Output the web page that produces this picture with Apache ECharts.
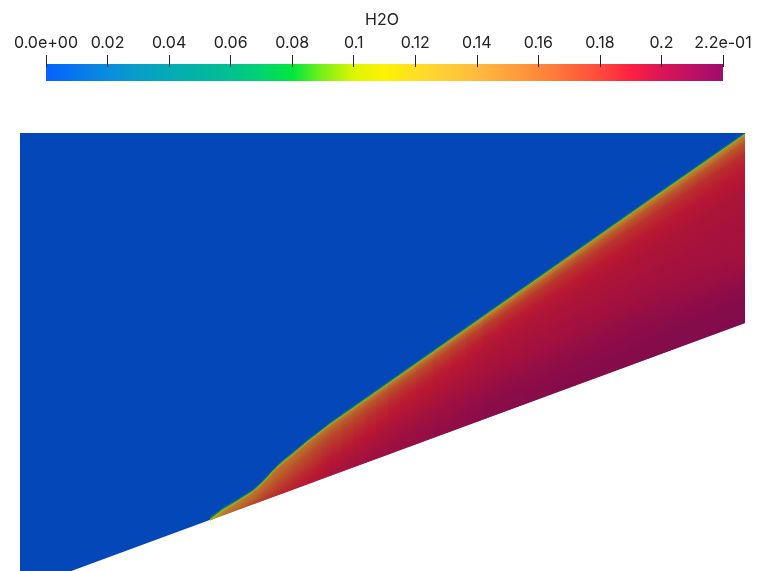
<!DOCTYPE html>
<html><head><meta charset="utf-8">
<script src="https://cdn.jsdelivr.net/npm/echarts@6/dist/echarts.min.js"></script>
<style>html,body{margin:0;padding:0;background:#fff}#c{width:757px;height:571px}</style>
</head><body><div id="c"></div>
<script>
// ---- colour bar ----
const TICK_VALUES = [0, 0.02, 0.04, 0.06, 0.08, 0.1, 0.12, 0.14, 0.16, 0.18, 0.2, 0.22];
const TICK_LABELS = ['0.0e+00', '0.02', '0.04', '0.06', '0.08', '0.1', '0.12', '0.14', '0.16', '0.18', '0.2', '2.2e-01'];
const CMAP_VALUES = [0, 0.01, 0.02, 0.03, 0.04, 0.05, 0.06, 0.07, 0.08, 0.09, 0.10, 0.11, 0.12, 0.13, 0.14, 0.15, 0.16, 0.17, 0.18, 0.19, 0.20, 0.21, 0.22];
const CMAP_COLORS = ['#0561fe', '#0878ee', '#0a8ddc', '#089ec8', '#04abb6', '#02b5a4', '#00c190', '#00d470', '#00e63c', '#7af018', '#dcf600', '#fff200', '#ffde24', '#ffcd36', '#ffbb3c', '#ffa23c', '#ff8a3a', '#ff6a3a', '#ff4a3c', '#ff2043', '#da1558', '#be1064', '#a00c70'];

// ---- field geometry (domain units) ----
const DOMAIN_X = [0, 7.25];
const DOMAIN_Y = [0, 4.38];
const WALL_X = [0, 7.25];
const WALL_Y = [-0.189, 2.483];
const SHOCK_X = [1.90, 2.03, 2.17, 2.33, 2.40, 2.47, 2.53, 2.58, 2.64, 2.70, 2.79, 2.88, 3.10, 3.80, 4.80, 6.30, 7.25];
const SHOCK_Y = [0.512, 0.61, 0.69, 0.79, 0.852, 0.925, 0.99, 1.04, 1.093, 1.14, 1.215, 1.29, 1.46, 1.95, 2.65, 3.70, 4.36];
// fraction of the distance wall -> shock
const LEVELS_T = [0, 0.1, 0.2, 0.3, 0.4, 0.55, 0.7, 0.8, 0.9, 0.96, 1];
// H2O mass fraction at each station (rows follow SHOCK_X), from wall to shock
const PROFILES = [
  [0.11, 0.11, 0.11, 0.11, 0.11, 0.11, 0.11, 0.11, 0.11, 0.11, 0.11],
  [0.15, 0.15, 0.15, 0.148, 0.146, 0.144, 0.142, 0.14, 0.135, 0.13, 0.12],
  [0.16, 0.16, 0.158, 0.156, 0.154, 0.152, 0.15, 0.148, 0.145, 0.14, 0.13],
  [0.172, 0.17, 0.168, 0.165, 0.162, 0.158, 0.155, 0.152, 0.15, 0.146, 0.14],
  [0.176, 0.174, 0.171, 0.168, 0.165, 0.161, 0.157, 0.154, 0.151, 0.147, 0.14],
  [0.18, 0.178, 0.175, 0.172, 0.168, 0.164, 0.159, 0.156, 0.152, 0.148, 0.14],
  [0.182, 0.18, 0.177, 0.174, 0.17, 0.165, 0.16, 0.157, 0.153, 0.149, 0.14],
  [0.184, 0.182, 0.179, 0.176, 0.172, 0.167, 0.162, 0.158, 0.154, 0.15, 0.14],
  [0.186, 0.184, 0.181, 0.178, 0.174, 0.169, 0.164, 0.159, 0.155, 0.15, 0.14],
  [0.187, 0.185, 0.183, 0.18, 0.176, 0.17, 0.165, 0.16, 0.155, 0.15, 0.14],
  [0.189, 0.187, 0.185, 0.183, 0.179, 0.173, 0.168, 0.162, 0.157, 0.151, 0.14],
  [0.19, 0.189, 0.187, 0.185, 0.181, 0.176, 0.17, 0.164, 0.158, 0.152, 0.14],
  [0.195, 0.194, 0.192, 0.19, 0.187, 0.182, 0.176, 0.17, 0.162, 0.154, 0.14],
  [0.203, 0.201, 0.199, 0.197, 0.195, 0.191, 0.186, 0.18, 0.17, 0.158, 0.14],
  [0.211, 0.21, 0.207, 0.203, 0.199, 0.196, 0.193, 0.188, 0.179, 0.163, 0.14],
  [0.213, 0.212, 0.209, 0.205, 0.2, 0.197, 0.194, 0.19, 0.181, 0.165, 0.14],
  [0.214, 0.213, 0.209, 0.2, 0.198, 0.197, 0.195, 0.191, 0.183, 0.167, 0.14]
];
const FREESTREAM = 0;
const SHOCK_WIDTH = 0.03;   // thickness of the captured shock front
const SHADE = 0.73;         // lighting of the rendered surface

// ---- helpers ----
const CMAP_RGB = CMAP_COLORS.map(h => [parseInt(h.slice(1, 3), 16), parseInt(h.slice(3, 5), 16), parseInt(h.slice(5, 7), 16)]);
function cmap(v, shade) {
  const n = CMAP_VALUES.length;
  if (v <= CMAP_VALUES[0]) v = CMAP_VALUES[0];
  if (v >= CMAP_VALUES[n - 1]) v = CMAP_VALUES[n - 1];
  let k = 0;
  while (k < n - 2 && v > CMAP_VALUES[k + 1]) k++;
  const f = (v - CMAP_VALUES[k]) / (CMAP_VALUES[k + 1] - CMAP_VALUES[k]);
  const a = CMAP_RGB[k], b = CMAP_RGB[k + 1];
  const c = [0, 1, 2].map(q => Math.round((a[q] + (b[q] - a[q]) * f) * shade));
  return 'rgb(' + c.join(',') + ')';
}
function wallY(x) {
  return WALL_Y[0] + (WALL_Y[1] - WALL_Y[0]) * (x - WALL_X[0]) / (WALL_X[1] - WALL_X[0]);
}
function shockAt(i, u) {
  return [SHOCK_X[i] + (SHOCK_X[i + 1] - SHOCK_X[i]) * u, SHOCK_Y[i] + (SHOCK_Y[i + 1] - SHOCK_Y[i]) * u];
}
function levelPt(i, u, t) {
  const s = shockAt(i, u);
  const yw = wallY(s[0]);
  return [s[0], yw + t * (s[1] - yw)];
}
const NSTOP = 6, NSUB = 6;
function gradFill(a0, a1, b0, b1, va, vb) {
  const bm = [(a0[0] + a1[0]) / 2, (a0[1] + a1[1]) / 2];
  const tm = [(b0[0] + b1[0]) / 2, (b0[1] + b1[1]) / 2];
  let dx = a1[0] - a0[0], dy = a1[1] - a0[1];
  const len = Math.hypot(dx, dy) || 1; dx /= len; dy /= len;
  const nx = -dy, ny = dx;
  const p = (tm[0] - bm[0]) * nx + (tm[1] - bm[1]) * ny;
  if (Math.abs(p) < 0.05) return cmap((va + vb) / 2, SHADE);
  const stops = [];
  for (let s = 0; s <= NSTOP; s++) stops.push({ offset: s / NSTOP, color: cmap(va + (vb - va) * s / NSTOP, SHADE) });
  return { type: 'linear', x: bm[0], y: bm[1], x2: bm[0] + nx * p, y2: bm[1] + ny * p, colorStops: stops, global: true };
}

// ---- data items ----
const cellData = [];
for (let i = 0; i < SHOCK_X.length - 1; i++)
  for (let j = 0; j < LEVELS_T.length - 1; j++) cellData.push([i, j]);
const bandData = [];
for (let i = 0; i < SHOCK_X.length - 1; i++) bandData.push([i]);

const chart = echarts.init(document.getElementById('c'), null, { renderer: 'canvas' });
const FONT = 'Inter';
chart.setOption({
  animation: false,
  backgroundColor: '#ffffff',
  graphic: [{
    type: 'text', left: 365, top: 12,
    style: { text: 'H2O', fontSize: 16, fontFamily: FONT, fill: '#222' }
  }],
  grid: [
    { left: 20, top: 133, width: 725, height: 438 },
    { left: 46, top: 67, width: 677, height: 14 }
  ],
  xAxis: [
    { gridIndex: 0, type: 'value', min: DOMAIN_X[0], max: DOMAIN_X[1], show: false },
    {
      gridIndex: 1, type: 'value', position: 'top', min: TICK_VALUES[0], max: TICK_VALUES[TICK_VALUES.length - 1],
      interval: 0.02, z: 10,
      axisLine: { show: false, onZero: false },
      axisTick: { show: true, inside: false, length: 12, lineStyle: { color: '#222', width: 1 } },
      splitLine: { show: false },
      axisLabel: {
        margin: 16, fontSize: 16, fontFamily: FONT, color: '#222', showMinLabel: true, showMaxLabel: true,
        formatter: function (v) { return TICK_LABELS[Math.round(v / 0.02)]; }
      }
    }
  ],
  yAxis: [
    { gridIndex: 0, type: 'value', min: DOMAIN_Y[0], max: DOMAIN_Y[1], show: false },
    { gridIndex: 1, type: 'value', min: 0, max: 0.82, show: false }
  ],
  series: [
    { // free stream (whole domain)
      type: 'custom', xAxisIndex: 0, yAxisIndex: 0, clip: true, silent: true,
      data: [[FREESTREAM]],
      renderItem: function (params, api) {
        const pts = [[WALL_X[0], WALL_Y[0]], [DOMAIN_X[0], DOMAIN_Y[1]], [DOMAIN_X[1], DOMAIN_Y[1]], [WALL_X[1], WALL_Y[1]]].map(p => api.coord(p));
        return { type: 'polygon', shape: { points: pts }, style: { fill: cmap(api.value(0), SHADE) } };
      }
    },
    { // post-shock layer
      type: 'custom', xAxisIndex: 0, yAxisIndex: 0, clip: true, silent: true,
      data: cellData,
      renderItem: function (params, api) {
        const i = api.value(0), j = api.value(1);
        const children = [];
        for (let k = 0; k < NSUB; k++) {
          const u0 = k / NSUB, u1 = (k + 1) / NSUB, um = (u0 + u1) / 2;
          const p00 = api.coord(levelPt(i, u0, LEVELS_T[j])), p10 = api.coord(levelPt(i, u1, LEVELS_T[j]));
          const p01 = api.coord(levelPt(i, u0, LEVELS_T[j + 1])), p11 = api.coord(levelPt(i, u1, LEVELS_T[j + 1]));
          const va = PROFILES[i][j] + (PROFILES[i + 1][j] - PROFILES[i][j]) * um;
          const vb = PROFILES[i][j + 1] + (PROFILES[i + 1][j + 1] - PROFILES[i][j + 1]) * um;
          const fill = gradFill(p00, p10, p01, p11, va, vb);
          children.push({ type: 'polygon', shape: { points: [p00, p10, p11, p01] }, style: { fill: fill, stroke: fill, lineWidth: 0.8 } });
        }
        return { type: 'group', children: children };
      }
    },
    { // shock front
      type: 'custom', xAxisIndex: 0, yAxisIndex: 0, clip: true, silent: true,
      data: bandData,
      renderItem: function (params, api) {
        const i = api.value(0);
        const last = LEVELS_T.length - 1;
        const children = [];
        for (let k = 0; k < NSUB; k++) {
          const u0 = k / NSUB, u1 = (k + 1) / NSUB, um = (u0 + u1) / 2;
          const s0 = shockAt(i, u0), s1 = shockAt(i, u1);
          const a0 = api.coord(s0), a1 = api.coord(s1);
          const b0 = api.coord([s0[0], s0[1] + SHOCK_WIDTH]), b1 = api.coord([s1[0], s1[1] + SHOCK_WIDTH]);
          const va = PROFILES[i][last] + (PROFILES[i + 1][last] - PROFILES[i][last]) * um;
          const fill = gradFill(a0, a1, b0, b1, va, FREESTREAM);
          children.push({ type: 'polygon', shape: { points: [a0, a1, b1, b0] }, style: { fill: fill, stroke: fill, lineWidth: 0.5 } });
        }
        return { type: 'group', children: children };
      }
    },
    { // colour bar
      type: 'custom', xAxisIndex: 1, yAxisIndex: 1, silent: true, z: 1,
      data: [[TICK_VALUES[0], TICK_VALUES[TICK_VALUES.length - 1]]],
      renderItem: function (params, api) {
        const p0 = api.coord([api.value(0), 0]), p1 = api.coord([api.value(1), 1]);
        const span = CMAP_VALUES[CMAP_VALUES.length - 1] - CMAP_VALUES[0];
        const stops = CMAP_VALUES.map((v, k) => ({ offset: (v - CMAP_VALUES[0]) / span, color: CMAP_COLORS[k] }));
        return {
          type: 'rect', shape: { x: p0[0], y: p1[1], width: p1[0] - p0[0], height: p0[1] - p1[1] },
          style: { fill: { type: 'linear', x: 0, y: 0, x2: 1, y2: 0, colorStops: stops } }
        };
      }
    }
  ]
});
</script>
</body></html>
